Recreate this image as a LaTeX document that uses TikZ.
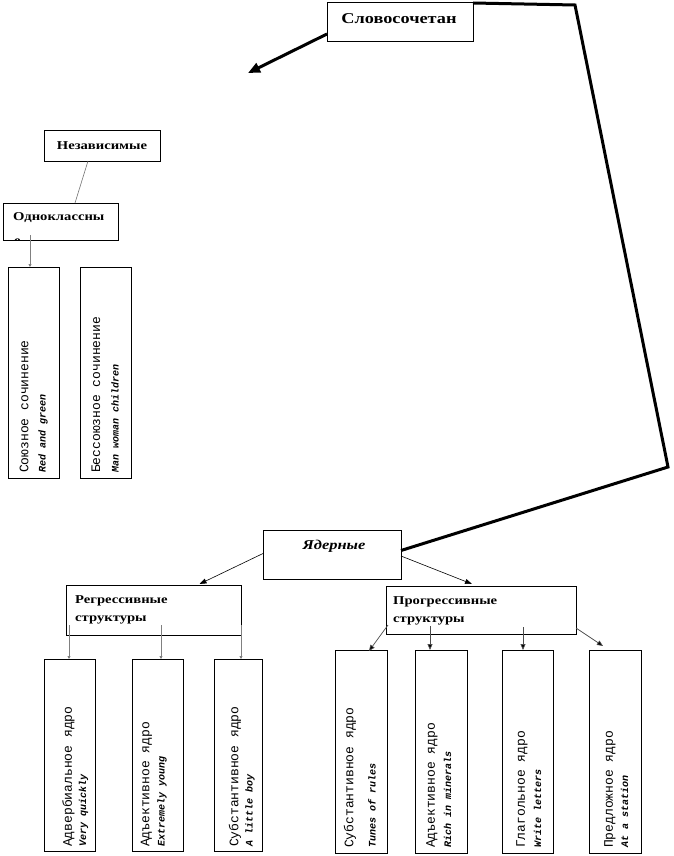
\documentclass[tikz,border=0pt]{standalone}
\usepackage{fontspec}
\setmainfont{Liberation Serif}
\newfontfamily\hd[FakeStretch=1.22]{Liberation Serif}
\newfontfamily\mono{Liberation Mono}
\usetikzlibrary{arrows.meta,calc}
\begin{document}
\begin{tikzpicture}[x=1pt,y=-1pt,
  box/.style={draw, line width=0.8pt, inner sep=0pt, outer sep=0pt, rectangle},
  vbox/.style={box, minimum width=51pt, minimum height=211pt},
  bbox/.style={box, minimum width=51pt, minimum height=192pt},
  cbox/.style={box, minimum width=52pt, minimum height=203pt},
  hdr/.style={inner sep=0pt, font=\hd\bfseries\fontsize{12}{14}\selectfont},
  vmain/.style={rotate=90, anchor=west, inner sep=0pt, font=\mono\fontsize{13}{15}\selectfont},
  vsub/.style={rotate=90, anchor=west, inner sep=0pt, font=\mono\bfseries\itshape\fontsize{10}{12}\selectfont},
  thickline/.style={line width=3pt},
  thinarrow/.style={line width=0.6pt, -{Triangle[length=7pt,width=5pt]}},
  grayarrow/.style={line width=0.7pt, draw=black!50, -{Triangle[length=3pt,width=3pt,fill=black!80]}},
  darkarrow/.style={line width=0.7pt, draw=black!70, -{Triangle[length=6pt,width=5pt,fill=black]}},
  grayline/.style={line width=0.6pt, draw=black!55}
]
\useasboundingbox (0,0) rectangle (673,856);

% boxes
\node[box, minimum width=146pt, minimum height=39pt] (S) at (400,21.5) {};
\node[box, minimum width=116pt, minimum height=31pt] (N) at (102,145.5) {};
\node[box, minimum width=115pt, minimum height=37pt] (O) at (60.5,221.5) {};
\node[vbox] (V1) at (33.5,372.5) {};
\node[vbox] (V2) at (105.5,372.5) {};
\node[box, minimum width=138pt, minimum height=49pt] (Y) at (332,554.5) {};
\node[box, minimum width=175pt, minimum height=50pt] (R) at (153.5,610) {};
\node[box, minimum width=190pt, minimum height=48pt] (P) at (481,610) {};
\node[bbox] (B1) at (69.5,755) {};
\node[bbox] (B2) at (157.5,755) {};
\node[box, minimum width=48pt, minimum height=192pt] (B3) at (238,755) {};
\node[cbox] (B4) at (361,751.5) {};
\node[cbox] (B5) at (441,751.5) {};
\node[box, minimum width=51pt, minimum height=203pt] (B6) at (527.5,751.5) {};
\node[cbox] (B7) at (615,751.5) {};

% header texts
\node[inner sep=0pt, font=\hd\bfseries\fontsize{15}{17}\selectfont] (St) at (399,19) {Словосочетан};
\node[hdr] (Nt) at (102,146) {Независимые};
\node[hdr, anchor=west] (Ot) at (13,217.5) {Одноклассны};
\begin{scope}
  \clip (O.south west) rectangle (O.north east);
  \node[hdr, anchor=base west] (Ot2) at (14,244) {е};
\end{scope}
\node[hdr, anchor=west] (Rt1) at (75,601) {Регрессивные};
\node[hdr, anchor=west] (Rt2) at (75,620) {структуры};
\node[hdr, anchor=west] (Pt1) at (393,602) {Прогрессивные};
\node[hdr, anchor=west] (Pt2) at (393,621) {структуры};
\node[inner sep=0pt, font=\hd\bfseries\itshape\fontsize{13.5}{16}\selectfont] (Yt) at (334,546) {Ядерные};

% vertical texts
\node[vmain] (V1m) at ($(V1.south)+(-9.5,-5)$) {Союзное сочинение};
\node[vsub]  (V1s) at ($(V1.south)+(9.5,-5)$) {Red and green};
\node[vmain] (V2m) at ($(V2.south)+(-9.5,-5)$) {Бессоюзное сочинение};
\node[vsub]  (V2s) at ($(V2.south)+(9.5,-5)$) {Man woman children};
\node[vmain] (B1m) at ($(B1.south)+(-1,-4)$) {Адвербиальное ядро};
\node[vsub]  (B1s) at ($(B1.south)+(14,-4)$) {Very quickly};
\node[vmain] (B2m) at ($(B2.south)+(-11,-4)$) {Адъективное ядро};
\node[vsub]  (B2s) at ($(B2.south)+(4.5,-4)$) {Extremely young};
\node[vmain] (B3m) at ($(B3.south)+(-3,-4)$) {Субстантивное ядро};
\node[vsub]  (B3s) at ($(B3.south)+(12,-4)$) {A little boy};
\node[vmain] (B4m) at ($(B4.south)+(-11,-5)$) {Субстантивное ядро};
\node[vsub]  (B4s) at ($(B4.south)+(11,-5)$) {Tunes of rules};
\node[vmain] (B5m) at ($(B5.south)+(-9,-5)$) {Адъективное ядро};
\node[vsub]  (B5s) at ($(B5.south)+(6.5,-5)$) {Rich in minerals};
\node[vmain] (B6m) at ($(B6.south)+(-5.5,-5)$) {Глагольное ядро};
\node[vsub]  (B6s) at ($(B6.south)+(10,-5)$) {Write letters};
\node[vmain] (B7m) at ($(B7.south)+(-5,-5)$) {Предложное ядро};
\node[vsub]  (B7s) at ($(B7.south)+(9.5,-5)$) {At a station};

% connectors
\coordinate (Send) at (248,73);
\draw[thickline, -{Triangle[length=12pt,width=10pt]}] ($(S.south west)+(0,-7)$) -- (Send);
\coordinate (k1) at (575,5);
\coordinate (k2) at (668,467);
\draw[thickline, line join=miter] ($(S.north east)+(0,1)$) -- (k1) -- (k2) -- ($(Y.east)+(0,-4)$);
\draw[grayline] ($(N.south)+(-14,0)$) -- ($(O.north)+(14.5,0)$);
\draw[grayarrow] ($(O.south west)+(27,-5)$) -- ($(V1.north)+(-3.5,0)$);
\draw[thinarrow] ($(Y.west)+(0,-1)$) -- ($(R.north)+(46,-1)$);
\draw[thinarrow] ($(Y.east)+(0,1.5)$) -- ($(P.north)+(-9,-2)$);
\draw[grayarrow] ($(R.south west)+(3,-10)$) -- ($(B1.north)+(-0.5,0)$);
\draw[grayarrow] ($(R.south west)+(95,-10)$) -- ($(B2.north)+(3.5,0)$);
\draw[grayarrow] ($(R.south west)+(175,-10)$) -- ($(B3.north)+(3,0)$);
\draw[darkarrow] ($(P.south west)+(2,-9)$) -- ($(B4.north)+(8,1)$);
\draw[darkarrow] ($(P.south west)+(44,-8)$) -- ($(B5.north)+(-11,0)$);
\draw[darkarrow] ($(P.south west)+(137,-7)$) -- ($(B6.north)+(-4.5,0)$);
\draw[darkarrow] ($(P.south east)+(0,-6)$) -- ($(B7.north)+(-12,-4)$);
\end{tikzpicture}
\end{document}
